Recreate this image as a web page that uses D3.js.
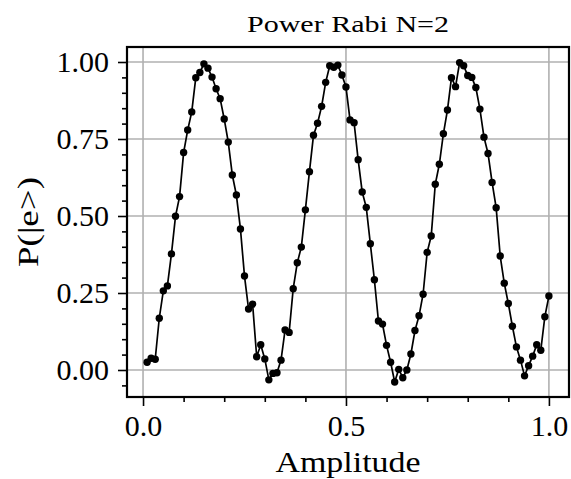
<!DOCTYPE html>
<html>
<head>
<meta charset="utf-8">
<script src="https://cdn.jsdelivr.net/npm/d3@7"></script>
<style>
	body { margin: 0; background: #fff; }
	svg { display: block; }
	svg text { font-family: "Liberation Serif", Tinos, "Times New Roman", Times, serif; }
</style>
</head>
<body>
<svg id="rabi-svg"></svg>
<script>
// Power Rabi scan, N=2
const amplitude = [
	0.01, 0.02, 0.03, 0.04, 0.05, 0.06, 0.07, 0.08, 0.09, 0.10,
	0.11, 0.12, 0.13, 0.14, 0.15, 0.16, 0.17, 0.18, 0.19, 0.20,
	0.21, 0.22, 0.23, 0.24, 0.25, 0.26, 0.27, 0.28, 0.29, 0.30,
	0.31, 0.32, 0.33, 0.34, 0.35, 0.36, 0.37, 0.38, 0.39, 0.40,
	0.41, 0.42, 0.43, 0.44, 0.45, 0.46, 0.47, 0.48, 0.49, 0.50,
	0.51, 0.52, 0.53, 0.54, 0.55, 0.56, 0.57, 0.58, 0.59, 0.60,
	0.61, 0.62, 0.63, 0.64, 0.65, 0.66, 0.67, 0.68, 0.69, 0.70,
	0.71, 0.72, 0.73, 0.74, 0.75, 0.76, 0.77, 0.78, 0.79, 0.80,
	0.81, 0.82, 0.83, 0.84, 0.85, 0.86, 0.87, 0.88, 0.89, 0.90,
	0.91, 0.92, 0.93, 0.94, 0.95, 0.96, 0.97, 0.98, 0.99, 1.00
];

const population = [
	0.025, 0.038, 0.035, 0.168, 0.257, 0.273, 0.377, 0.499, 0.563, 0.706,
	0.779, 0.838, 0.949, 0.966, 0.994, 0.980, 0.951, 0.913, 0.881, 0.815,
	0.740, 0.633, 0.568, 0.458, 0.305, 0.198, 0.214, 0.043, 0.082, 0.036,
	-0.032, -0.011, -0.009, 0.032, 0.130, 0.122, 0.264, 0.348, 0.399, 0.520,
	0.644, 0.762, 0.801, 0.856, 0.934, 0.988, 0.983, 0.990, 0.958, 0.919,
	0.812, 0.803, 0.683, 0.578, 0.528, 0.410, 0.293, 0.159, 0.149, 0.080,
	0.025, -0.039, 0.002, -0.025, 0.000, 0.052, 0.128, 0.176, 0.246, 0.382,
	0.435, 0.603, 0.668, 0.767, 0.844, 0.949, 0.920, 0.998, 0.988, 0.956,
	0.950, 0.917, 0.847, 0.756, 0.703, 0.609, 0.527, 0.370, 0.282, 0.216,
	0.142, 0.075, 0.032, -0.019, 0.014, 0.045, 0.082, 0.064, 0.173, 0.240
];

const xTicks = [0.0, 0.5, 1.0];
const xMinorTicks = [0.1, 0.2, 0.3, 0.4, 0.6, 0.7, 0.8, 0.9];
const yTicks = [0.00, 0.25, 0.50, 0.75, 1.00];
const yMinorTicks = [-0.05, 0.05, 0.10, 0.15, 0.20, 0.30, 0.35, 0.40, 0.45,
	0.55, 0.60, 0.65, 0.70, 0.80, 0.85, 0.90, 0.95];

const title = "Power Rabi N=2";
const xLabel = "Amplitude";
const yLabel = "P(|e>)";

const width = 571;
const height = 479;
const box = { left: 127, right: 569, top: 47, bottom: 397 };

const svg = d3.select("#rabi-svg")
	.attr("width", width)
	.attr("height", height);

const xScale = d3.scaleLinear()
	.domain([-0.0395, 1.0495])
	.range([box.left, box.right]);

const yScale = d3.scaleLinear()
	.domain([-0.0877, 1.0487])
	.range([box.bottom, box.top]);

// grid at major ticks
const grid = svg.append("g").attr("class", "grid");

grid.selectAll("line.gx")
	.data(xTicks)
	.enter().append("line")
	.attr("class", "gx")
	.attr("x1", d => xScale(d)).attr("x2", d => xScale(d))
	.attr("y1", box.top).attr("y2", box.bottom)
	.style("stroke", "#b0b0b0").style("stroke-width", "1.6px");

grid.selectAll("line.gy")
	.data(yTicks)
	.enter().append("line")
	.attr("class", "gy")
	.attr("x1", box.left).attr("x2", box.right)
	.attr("y1", d => yScale(d)).attr("y2", d => yScale(d))
	.style("stroke", "#b0b0b0").style("stroke-width", "1.6px");

// axes
function styleAxis(g) {
	g.attr("font-family", null).attr("font-size", null);
	g.select(".domain").remove();
	g.selectAll("line")
		.style("stroke", "#000")
		.style("stroke-width", "1.6px");
	g.selectAll("text")
		.style("font-size", "30px")
		.style("fill", "#000");
}

const xAxis = d3.axisBottom(xScale)
	.tickValues(xTicks)
	.tickSize(9)
	.tickPadding(9)
	.tickFormat(d3.format(".1f"));

const xAxisG = svg.append("g")
	.attr("class", "x-axis")
	.attr("transform", "translate(0," + box.bottom + ")")
	.call(xAxis);
styleAxis(xAxisG);

const xMinor = svg.append("g")
	.attr("transform", "translate(0," + box.bottom + ")")
	.call(d3.axisBottom(xScale).tickValues(xMinorTicks).tickSize(5).tickFormat(""));
styleAxis(xMinor);

const yAxis = d3.axisLeft(yScale)
	.tickValues(yTicks)
	.tickSize(9)
	.tickPadding(9)
	.tickFormat(d3.format(".2f"));

const yAxisG = svg.append("g")
	.attr("class", "y-axis")
	.attr("transform", "translate(" + box.left + ",0)")
	.call(yAxis);
styleAxis(yAxisG);

const yMinor = svg.append("g")
	.attr("transform", "translate(" + box.left + ",0)")
	.call(d3.axisLeft(yScale).tickValues(yMinorTicks).tickSize(5).tickFormat(""));
styleAxis(yMinor);

// data line and markers
const line = d3.line()
	.x((d, i) => xScale(amplitude[i]))
	.y(d => yScale(d));

svg.append("path")
	.datum(population)
	.attr("d", line)
	.style("fill", "none")
	.style("stroke", "#000")
	.style("stroke-width", "1.7px");

svg.selectAll(".point")
	.data(population)
	.enter().append("circle")
	.attr("class", "point")
	.attr("cx", (d, i) => xScale(amplitude[i]))
	.attr("cy", d => yScale(d))
	.attr("r", 3.7)
	.style("fill", "#000");

// frame
svg.append("rect")
	.attr("x", box.left).attr("y", box.top)
	.attr("width", box.right - box.left)
	.attr("height", box.bottom - box.top)
	.style("fill", "none")
	.style("stroke", "#000")
	.style("stroke-width", "2.2px");

// labels
svg.append("text")
	.attr("x", (box.left + box.right) / 2)
	.attr("y", 32)
	.attr("textLength", 202)
	.attr("lengthAdjust", "spacingAndGlyphs")
	.style("font-size", "24px")
	.style("text-anchor", "middle")
	.text(title);

svg.append("text")
	.attr("x", (box.left + box.right) / 2)
	.attr("y", 472)
	.attr("textLength", 145)
	.attr("lengthAdjust", "spacingAndGlyphs")
	.style("font-size", "30px")
	.style("text-anchor", "middle")
	.text(xLabel);

svg.append("text")
	.attr("transform", "translate(38," + (box.top + box.bottom) / 2 + ") rotate(-90)")
	.attr("textLength", 90)
	.attr("lengthAdjust", "spacingAndGlyphs")
	.style("font-size", "30px")
	.style("text-anchor", "middle")
	.text(yLabel);
</script>
</body>
</html>
